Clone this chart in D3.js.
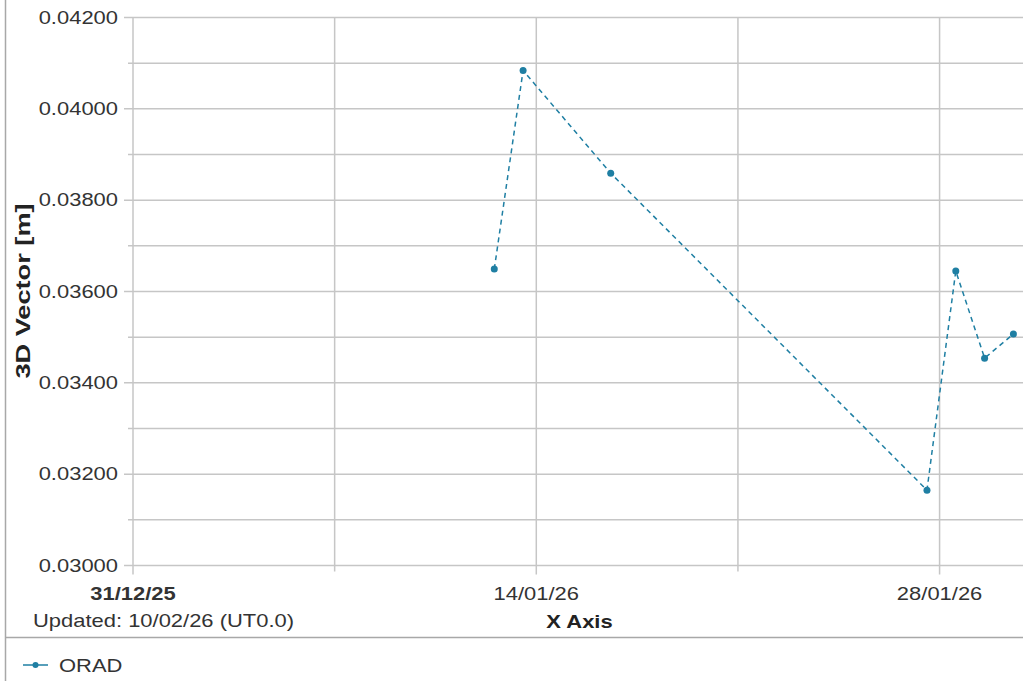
<!DOCTYPE html>
<html>
<head>
<meta charset="utf-8">
<script src="https://cdn.jsdelivr.net/npm/d3@7"></script>
<style>
  html, body { margin: 0; padding: 0; background: #fff; }
  svg { display: block; font-family: "Liberation Sans", Arial, sans-serif; }
</style>
</head>
<body>
<svg id="chart" width="1023" height="681"></svg>
<script>
// ---- data ----
const dates = ["2026-01-12T13:00", "2026-01-13T13:00", "2026-01-16T14:00", "2026-01-27T13:30",
               "2026-01-28T13:30", "2026-01-29T13:30", "2026-01-30T13:30"];
const values = [0.03649, 0.04084, 0.03859, 0.03165, 0.03645, 0.03454, 0.03507];
const seriesName = "ORAD";
const yMajorTicks = [0.030, 0.032, 0.034, 0.036, 0.038, 0.040, 0.042];
const yMinorTicks = [0.031, 0.033, 0.035, 0.037, 0.039, 0.041];
const xTickDates = ["2025-12-31", "2026-01-07", "2026-01-14", "2026-01-21", "2026-01-28"];
const xTickLabels = ["31/12/25", "", "14/01/26", "", "28/01/26"];
const xDomain = ["2025-12-31", "2026-01-31"];
const yLabel = "3D Vector [m]";
const xLabel = "X Axis";
const updatedText = "Updated: 10/02/26 (UT0.0)";

(function () {
// ---- layout ----
const parse = d3.timeParse("%Y-%m-%dT%H:%M");
const parseD = d3.timeParse("%Y-%m-%d");
const pL = 133, pR = 1026, pT = 17.5, pB = 565.5;
const sx = 1.22; // horizontal text stretch
const grid = "#c6c6c6";
const lineColor = "#1f7fa3";

const svg = d3.select("#chart");
const x = d3.scaleTime().domain(xDomain.map(parseD)).range([pL, pR]);
const y = d3.scaleLinear().domain([0.030, 0.042]).range([pB, pT]);

// frame lines
svg.append("line").attr("x1", 5.5).attr("x2", 5.5).attr("y1", 0).attr("y2", 681)
  .attr("stroke", "#a8a8a8").attr("stroke-width", 1.5);
svg.append("line").attr("x1", 5).attr("x2", 1023).attr("y1", 637.5).attr("y2", 637.5)
  .attr("stroke", "#a8a8a8").attr("stroke-width", 1.5);

// grid
const g = svg.append("g");
g.selectAll(".hmin").data(yMinorTicks).join("line")
  .attr("x1", pL - 5).attr("x2", 1023)
  .attr("y1", d => y(d)).attr("y2", d => y(d))
  .attr("stroke", grid).attr("stroke-width", 1.5);
g.selectAll(".hmaj").data(yMajorTicks).join("line")
  .attr("x1", pL - 9).attr("x2", 1023)
  .attr("y1", d => y(d)).attr("y2", d => y(d))
  .attr("stroke", grid).attr("stroke-width", 1.5);
g.selectAll(".vg").data(xTickDates).join("line")
  .attr("x1", d => x(parseD(d))).attr("x2", d => x(parseD(d)))
  .attr("y1", pT).attr("y2", (d, i) => pB + (xTickLabels[i] ? 9 : 6))
  .attr("stroke", grid).attr("stroke-width", 1.5);

// y tick labels
svg.append("g").selectAll("text").data(yMajorTicks).join("text")
  .attr("transform", d => `translate(118,${y(d) + 6}) scale(${sx},1)`)
  .attr("text-anchor", "end")
  .attr("font-size", 18).attr("fill", "#333")
  .text(d => d3.format(".5f")(d));

// x tick labels
svg.append("g").selectAll("text").data(xTickDates).join("text")
  .attr("transform", d => `translate(${x(parseD(d))},600) scale(${sx},1)`)
  .attr("text-anchor", "middle")
  .attr("font-size", 18).attr("fill", "#333")
  .attr("font-weight", (d, i) => i === 0 ? "bold" : "normal")
  .text((d, i) => xTickLabels[i]);

// axis titles
svg.append("text")
  .attr("transform", `translate(${(pL + pR) / 2},628) scale(${sx},1)`)
  .attr("text-anchor", "middle").attr("font-size", 18).attr("font-weight", "bold").attr("fill", "#222")
  .text(xLabel);
svg.append("text")
  .attr("transform", `translate(30,291) rotate(-90) scale(1.36,1)`)
  .attr("text-anchor", "middle").attr("font-size", 20).attr("font-weight", "bold").attr("fill", "#222")
  .text(yLabel);
svg.append("text")
  .attr("transform", `translate(33,627) scale(${sx},1)`)
  .attr("font-size", 18).attr("fill", "#333")
  .text(updatedText);

// series
const pts = dates.map((d, i) => ({ t: parse(d), v: values[i] }));
const line = d3.line().x(d => x(d.t)).y(d => y(d.v));
svg.append("path").datum(pts)
  .attr("d", line).attr("fill", "none")
  .attr("stroke", lineColor).attr("stroke-width", 1.5)
  .attr("stroke-dasharray", "5,4");
svg.append("g").selectAll("circle").data(pts).join("circle")
  .attr("cx", d => x(d.t)).attr("cy", d => y(d.v)).attr("r", 3.5)
  .attr("fill", lineColor);

// legend
const lg = svg.append("g");
lg.append("line").attr("x1", 23).attr("x2", 48).attr("y1", 665).attr("y2", 665)
  .attr("stroke", lineColor).attr("stroke-width", 1.5);
lg.append("circle").attr("cx", 35.5).attr("cy", 665).attr("r", 3).attr("fill", lineColor);
lg.append("text")
  .attr("transform", `translate(59,672) scale(${sx},1)`)
  .attr("font-size", 18).attr("fill", "#333")
  .text(seriesName);
})();
</script>
</body>
</html>
